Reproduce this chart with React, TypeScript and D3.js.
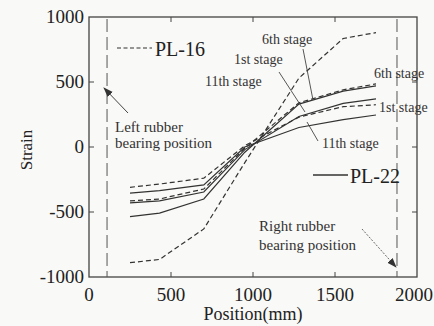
import React from "react";
import * as d3 from "d3";

const positions = [250, 430, 700, 950, 1280, 1550, 1750];
const pl16_6th = [-890, -865, -630, -120, 530, 835, 880];
const pl16_a = [-415, -400, -323, -10, 340, 440, 485];
const pl16_b = [-310, -285, -240, 10, 230, 310, 325];
const pl22_a = [-535, -508, -400, -40, 330, 430, 470];
const pl22_b = [-430, -415, -346, -20, 235, 335, 370];
const pl22_c = [-355, -336, -292, 0, 150, 210, 246];
const xTicks = [0, 500, 1000, 1500, 2000];
const yTicks = [-1000, -500, 0, 500, 1000];
const bearingPositions = [110, 1878];

const W = 434;
const H = 326;
const FONT = "'Liberation Serif', 'DejaVu Serif', serif";
const INK = "#333";

export default function App() {
  const x = d3.scaleLinear().domain([0, 2000]).range([89, 417]);
  const y = d3.scaleLinear().domain([-1000, 1000]).range([277, 17]);
  const line = d3
    .line<number>()
    .x((_, i) => x(positions[i]))
    .y((d) => y(d));

  const dashed = [pl16_6th, pl16_a, pl16_b];
  const solid = [pl22_a, pl22_b, pl22_c];
  const [x0, x1] = x.range();
  const [y0, y1] = y.range();
  const inner = [500, 1000, 1500];
  const innerY = [-500, 0, 500];

  return (
    <svg
      width={W}
      height={H}
      style={{ position: "fixed", left: 0, top: 0, background: "#f9f9f7" }}
      fontFamily={FONT}
    >
      <defs>
        <marker id="ah" viewBox="0 0 10 10" refX="9" refY="5" markerWidth="10" markerHeight="10" orient="auto">
          <path d="M0,1.5 L10,5 L0,8.5 Z" fill={INK} />
        </marker>
      </defs>
      {/* frame */}
      <rect x={x0} y={y1} width={x1 - x0} height={y0 - y1} fill="none" stroke="#444" strokeWidth={1.3} />
      {inner.map((t) => (
        <g key={"xt" + t}>
          <line x1={x(t)} x2={x(t)} y1={y0} y2={y0 - 5} stroke="#444" />
          <line x1={x(t)} x2={x(t)} y1={y1} y2={y1 + 5} stroke="#444" />
        </g>
      ))}
      {innerY.map((t) => (
        <g key={"yt" + t}>
          <line x1={x0} x2={x0 + 5} y1={y(t)} y2={y(t)} stroke="#444" />
          <line x1={x1} x2={x1 - 5} y1={y(t)} y2={y(t)} stroke="#444" />
        </g>
      ))}
      {xTicks.map((t, i) => {
        const last = i === xTicks.length - 1;
        return (
          <text
            key={"xl" + t}
            x={last ? W - 1 : x(t)}
            y={y0 + 24}
            fontSize={19}
            textAnchor={last ? "end" : "middle"}
            fill="#222"
          >
            {t}
          </text>
        );
      })}
      {yTicks.map((t) => (
        <text key={"yl" + t} x={x0 - 5} y={y(t) + 6} fontSize={19} textAnchor="end" fill="#222">
          {t}
        </text>
      ))}
      <text x={253} y={320} fontSize={18} textAnchor="middle" fill="#222">
        Position(mm)
      </text>
      <text transform={`translate(32,150) rotate(-90)`} fontSize={17} textAnchor="middle" fill="#222">
        Strain
      </text>

      {/* bearing lines */}
      {bearingPositions.map((p) => (
        <line key={"b" + p} x1={x(p)} x2={x(p)} y1={y1 + 2} y2={y0} stroke="#555" strokeWidth={1} strokeDasharray="13,5" />
      ))}

      {/* data */}
      {dashed.map((s, i) => (
        <path key={"d" + i} d={line(s) || ""} fill="none" stroke={INK} strokeWidth={1.2} strokeDasharray="5,3" />
      ))}
      {solid.map((s, i) => (
        <path key={"s" + i} d={line(s) || ""} fill="none" stroke={INK} strokeWidth={1.2} />
      ))}

      {/* legend */}
      <line x1={117} x2={152} y1={48} y2={48} stroke={INK} strokeWidth={1.2} strokeDasharray="4,2.5" />
      <text x={155} y={56} fontSize={20} fill="#222">PL-16</text>
      <line x1={313} x2={348} y1={175} y2={175} stroke={INK} strokeWidth={1.3} />
      <text x={350} y={183} fontSize={20} fill="#222">PL-22</text>

      {/* stage labels */}
      <text x={262} y={44} fontSize={14} fill="#333">6th stage</text>
      <text x={234} y={64} fontSize={14} fill="#333">1st stage</text>
      <text x={205} y={86} fontSize={14} fill="#333">11th stage</text>
      <text x={374} y={78} fontSize={14} fill="#333">6th stage</text>
      <text x={379} y={112} fontSize={14} fill="#333">1st stage</text>
      <text x={322} y={148} fontSize={14} fill="#333">11th stage</text>
      <line x1={303} y1={49} x2={313} y2={100} stroke="#444" strokeWidth={0.9} />
      <line x1={279} y1={72} x2={305} y2={112} stroke="#444" strokeWidth={0.9} />
      <line x1={318} y1={141} x2={307} y2={122} stroke="#444" strokeWidth={0.9} />

      {/* bearing annotations */}
      <line x1={128} y1={113} x2={104} y2={88} stroke="#444" strokeWidth={1} markerEnd="url(#ah)" />
      <text x={115} y={132} fontSize={15} fill="#333">Left rubber</text>
      <text x={115} y={148} fontSize={15} fill="#333">bearing position</text>
      <line x1={362} y1={229} x2={396} y2={267} stroke="#666" strokeWidth={1} strokeDasharray="2,1.5" markerEnd="url(#ah)" />
      <text x={259} y={231} fontSize={15} fill="#333">Right rubber</text>
      <text x={259} y={250} fontSize={15} fill="#333">bearing position</text>
    </svg>
  );
}
